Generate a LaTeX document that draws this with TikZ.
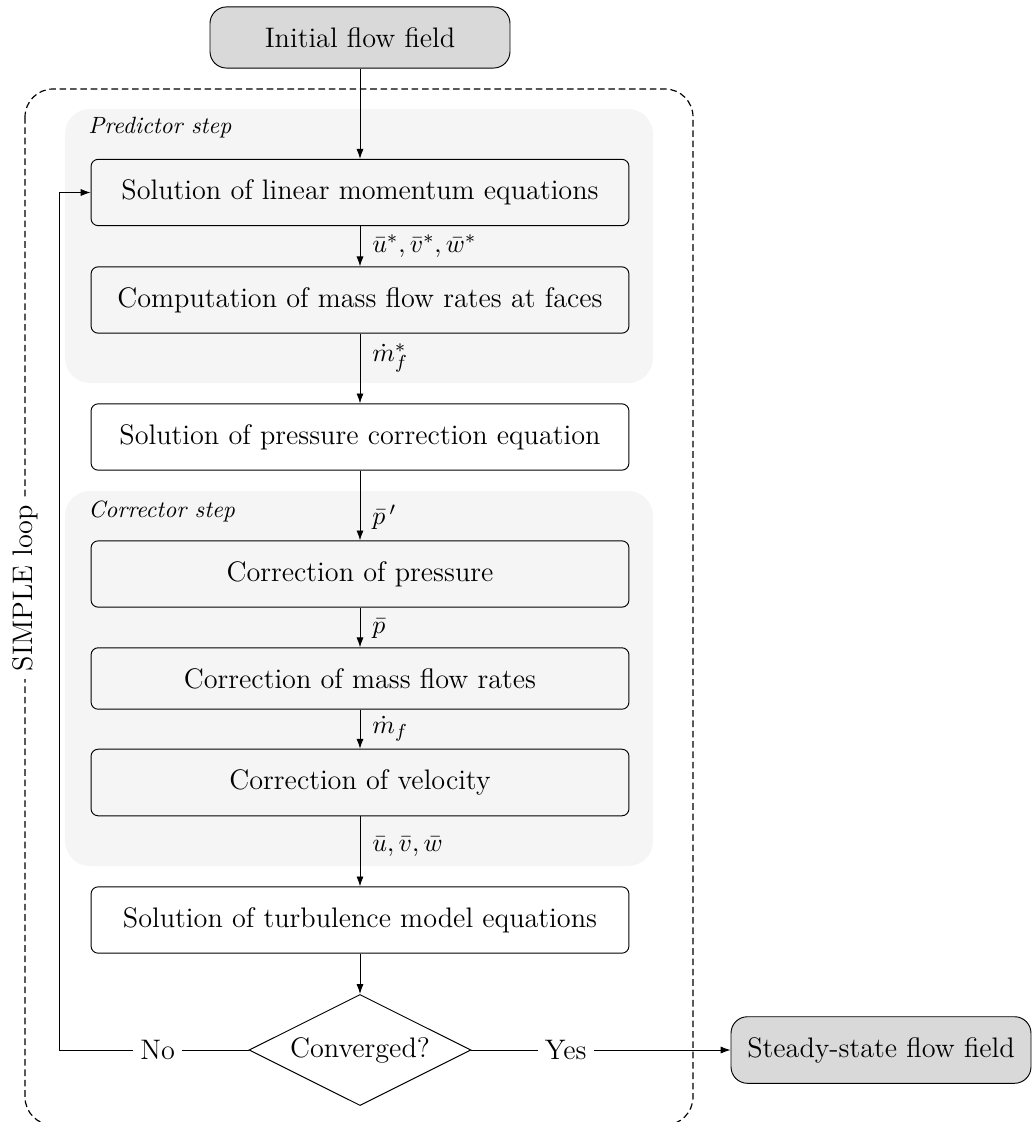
\documentclass[tikz,border=0pt]{standalone}
\usetikzlibrary{arrows.meta,shapes.geometric}
\definecolor{regiongray}{HTML}{F5F5F5}
\definecolor{termgray}{HTML}{D9D9D9}
\begin{document}
\begin{tikzpicture}[x=0.425pt,y=-0.425pt,
  every node/.style={font=\large},
  proc/.style={draw, rounded corners=3pt, minimum width=228.6pt, inner xsep=0pt, inner ysep=8.7pt},
  term/.style={draw, fill=termgray, rounded corners=7pt, minimum width=127.5pt, inner xsep=0pt, inner ysep=8.7pt},
  decision/.style={draw, diamond, aspect=2, inner sep=0pt, minimum width=94.3pt, minimum height=47.2pt},
  mlbl/.style={anchor=west, inner sep=0pt, font=\fontsize{11}{13}\selectfont},
  rlbl/.style={anchor=base west, inner sep=0pt, font=\normalsize\itshape},
  onlbl/.style={fill=white, inner xsep=3pt, inner ysep=2pt},
  arr/.style={-{Latex[length=4.2pt,width=3pt]}},
  region/.style={fill=regiongray, rounded corners=10.6pt},
  loopbox/.style={draw, line width=0.5pt, dash pattern=on 2.8pt off 1.6pt, rounded corners=11.9pt}
]
\useasboundingbox (0,0) rectangle (1032,1122);
\clip (0,0) rectangle (1032,1122);

% SIMPLE loop frame and step regions
\draw[loopbox] (25,89) rectangle (693,1125);
\fill[region] (65,109) rectangle (653,383);
\fill[region] (65,491) rectangle (653,866);

\node[rotate=90, fill=white] (simple) at (25,588) {SIMPLE loop};
\node[rlbl] (predlbl) at (88,134) {Predictor step};
\node[rlbl] (corrlbl) at (88,517) {Corrector step};

% nodes
\node[term] (init) at (360,37.5) {Initial flow field};
\node[proc] (sol) at (360,192.5) {Solution of linear momentum equations};
\node[proc] (comp) at (360,300) {Computation of mass flow rates at faces};
\node[proc] (press) at (360,437) {Solution of pressure correction equation};
\node[proc] (corrp) at (360,574) {Correction of pressure};
\node[proc] (mass) at (360,678.5) {Correction of mass flow rates};
\node[proc] (vel) at (360,782.5) {Correction of velocity};
\node[proc] (turb) at (360,920) {Solution of turbulence model equations};
\node[decision] (conv) at (360,1050) {Converged?};
\node[term] (steady) at (881,1050) {Steady-state flow field};
\coordinate (loopc) at (59,1050);

% connectors
\draw[arr] (init) -- (sol);
\draw[arr] (sol) -- (comp);
\draw[arr] (comp) -- (press);
\draw[arr] (press) -- (corrp);
\draw[arr] (corrp) -- (mass);
\draw[arr] (mass) -- (vel);
\draw[arr] (vel) -- (turb);
\draw[arr] (turb) -- (conv);
\draw[arr] (conv.west) -- node[onlbl, pos=0.48] (no) {No} (loopc) |- (sol.west);
\draw[arr] (conv.east) -- node[onlbl, pos=0.364] (yes) {Yes} (steady.west);

% variable labels
\node[mlbl] (l1) at (372,246) {$\bar{u}^*, \bar{v}^*, \bar{w}^*$};
\node[mlbl] (l2) at (372,358) {$\dot{m}_f^*$};
\node[mlbl] (l3) at (372,517) {$\bar{p}\,'$};
\node[mlbl] (l4) at (372,629) {$\bar{p}$};
\node[mlbl] (l5) at (372,729) {$\dot{m}_f$};
\node[mlbl] (l6) at (372,847) {$\bar{u}, \bar{v}, \bar{w}$};
\end{tikzpicture}
\end{document}
